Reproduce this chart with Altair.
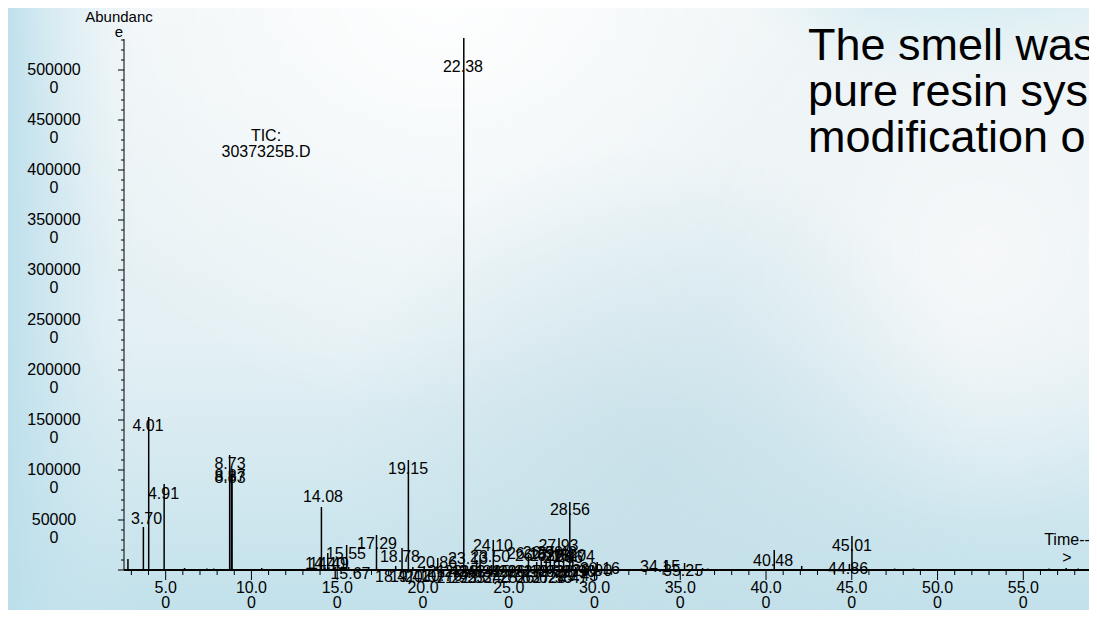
import altair as alt
import pandas as pd

# ---------------- data ----------------
# peak retention times (min) and apex abundance
peak_time = [2.80, 3.70, 4.01, 4.91, 6.10, 7.40, 7.80, 8.73, 8.83, 8.87, 10.60, 12.20,
             14.08, 14.45, 15.55, 15.67, 17.29, 18.41, 18.78, 19.15, 19.41, 20.07,
             20.76, 20.86, 22.38, 23.13, 23.33, 24.10, 26.15, 26.63, 26.90, 27.18,
             27.42, 27.66, 27.93, 28.20, 28.56, 28.74, 29.43, 29.90, 30.16, 33.50,
             34.15, 35.25, 36.30, 36.60, 40.48, 42.08, 44.86, 45.01, 47.50, 48.60,
             56.50, 57.50, 58.20,
             21.43, 21.95, 22.83, 23.77, 24.29, 24.70, 25.21, 25.63, 26.10, 26.62,
             27.03, 27.55, 28.47, 28.90]
peak_height = [110000, 430000, 1530000, 860000, 20000, 15000, 15000, 1150000, 950000,
               1000000, 20000, 10000, 630000, 170000, 250000, 30000, 350000, 40000,
               220000, 1100000, 30000, 40000, 30000, 120000, 5320000, 100000, 150000,
               300000, 150000, 80000, 120000, 100000, 150000, 100000, 320000, 120000,
               680000, 200000, 40000, 50000, 80000, 20000, 100000, 70000, 20000, 15000,
               200000, 40000, 60000, 340000, 15000, 15000, 15000, 20000, 15000,
               30000, 30000, 40000, 30000, 30000, 40000, 30000, 30000, 40000, 30000,
               30000, 40000, 30000, 30000]

# peak labels: text, centre position (min) and vertical centre (abundance units)
label_text = ["3.70", "4.01", "4.91", "8.73", "8.87", "8.83", "14.08", "14.40", "14.49",
              "15.55", "15.67", "17.29", "18.78", "18.41", "19.15", "19.41", "20.07",
              "20.76", "20.86", "22.38", "23.13", "23.50", "24.10", "26.15", "26.63",
              "26.90", "27.18", "27.42", "27.66", "28.20", "27.93", "28.56", "28.74",
              "29.43", "29.90", "30.16", "34.15", "35.25", "40.48", "44.86", "45.01",
              "21.43", "21.95", "22.41", "22.83", "23.34", "23.77", "24.29", "24.70",
              "25.21", "25.63", "26.10", "26.62", "27.03", "27.55", "27.97", "28.47",
              "28.90"]
label_time = [3.88, 3.97, 4.87, 8.75, 8.75, 8.75, 14.17, 14.29, 14.52, 15.51, 15.77,
              17.32, 18.66, 18.37, 19.13, 19.24, 20.12, 21.11, 20.82, 22.33, 22.62,
              23.91, 24.08, 26.06, 26.53, 26.99, 27.41, 27.81, 28.16, 28.34, 27.90,
              28.57, 28.86, 29.04, 29.86, 30.32, 33.82, 35.16, 40.41, 44.78, 45.01,
              21.43, 21.95, 22.41, 22.83, 23.34, 23.77, 24.29, 24.70, 25.21, 25.63,
              26.10, 26.62, 27.03, 27.55, 27.97, 28.47, 28.90]
label_level = [510000, 1440000, 760000, 1060000, 940000, 920000, 730000, 60000, 60000,
               160000, -40000, 260000, 130000, -70000, 1010000, -70000, -70000, -60000,
               70000, 5030000, 110000, 130000, 240000, 160000, 140000, 170000, 140000,
               170000, 120000, 140000, 240000, 600000, 130000, -60000, -10000, 10000,
               30000, -10000, 90000, 10000, 240000,
               -20000, -80000, -20000, -80000, -20000, -80000, -20000, -80000, -20000,
               -80000, -20000, -80000, -20000, -80000, -20000, -80000, -20000]

# axis ticks and tick labels
x_tick_values = list(range(3, 59))
x_label_values = [5, 10, 15, 20, 25, 30, 35, 40, 45, 50, 55]
x_label_text = ["5.0\n0", "10.0\n0", "15.0\n0", "20.0\n0", "25.0\n0", "30.0\n0",
                "35.0\n0", "40.0\n0", "45.0\n0", "50.0\n0", "55.0\n0"]
y_tick_values = list(range(0, 5300001, 100000))
y_label_values = [500000, 1000000, 1500000, 2000000, 2500000, 3000000, 3500000,
                  4000000, 4500000, 5000000]
y_label_text = ["50000\n0", "100000\n0", "150000\n0", "200000\n0", "250000\n0",
                "300000\n0", "350000\n0", "400000\n0", "450000\n0", "500000\n0"]

# ---------------- layout ----------------
W, H = 965, 531
PAD = {"left": 116, "top": 31, "right": 0, "bottom": 40}
FONT = "Liberation Sans"
FS = 16

peaks = pd.DataFrame({"t": peak_time, "h": peak_height})
labels = pd.DataFrame({"txt": label_text, "lt": label_time, "ly": label_level})
xt = pd.DataFrame({"v": x_tick_values, "major": [v % 5 == 0 for v in x_tick_values]})
yt = pd.DataFrame({"v": y_tick_values, "major": [v % 500000 == 0 for v in y_tick_values]})
xl = pd.DataFrame({"v": x_label_values, "s": x_label_text})
yl = pd.DataFrame({"v": y_label_values, "s": y_label_text})
one = pd.DataFrame({"a": [0]})

xscale = alt.Scale(domain=[2.57, 58.83], nice=False, zero=False)
yscale = alt.Scale(domain=[0, 5310000], nice=False, zero=False)
X = lambda f: alt.X(f, scale=xscale, axis=None)
Y = lambda f: alt.Y(f, scale=yscale, axis=None)


def bg(fill):
    return alt.Chart(one).mark_rect(fill=fill, strokeWidth=0).encode(
        x=alt.value(-PAD["left"]), x2=alt.value(W + PAD["right"]),
        y=alt.value(-PAD["top"]), y2=alt.value(H + PAD["bottom"]))


bg_layers = [
    bg({"gradient": "linear", "x1": 0, "y1": 0, "x2": 0, "y2": 1,
        "stops": [{"offset": 0, "color": "#eef4f6"},
                  {"offset": 0.55, "color": "#e4f0f4"},
                  {"offset": 1, "color": "#c2e1eb"}]}),
    bg({"gradient": "linear", "x1": 0, "y1": 0, "x2": 1, "y2": 0,
        "stops": [{"offset": 0, "color": "rgba(186,222,235,0.9)"},
                  {"offset": 0.12, "color": "rgba(210,233,241,0.0)"},
                  {"offset": 1, "color": "rgba(210,233,241,0.0)"}]}),
    bg({"gradient": "radial", "x1": 0.88, "y1": 0.0, "r1": 0, "x2": 0.88, "y2": 0.0,
        "r2": 0.3,
        "stops": [{"offset": 0, "color": "rgba(120,205,222,0.95)"},
                  {"offset": 1, "color": "rgba(160,220,232,0.0)"}]}),
    bg({"gradient": "radial", "x1": 0.4, "y1": 0.2, "r1": 0, "x2": 0.4, "y2": 0.2,
        "r2": 0.4,
        "stops": [{"offset": 0, "color": "rgba(255,255,255,0.95)"},
                  {"offset": 1, "color": "rgba(255,255,255,0.0)"}]}),
    bg({"gradient": "radial", "x1": 0.9, "y1": 0.45, "r1": 0, "x2": 0.9, "y2": 0.45,
        "r2": 0.25,
        "stops": [{"offset": 0, "color": "rgba(248,249,250,0.9)"},
                  {"offset": 1, "color": "rgba(248,249,250,0.0)"}]}),
    bg({"gradient": "radial", "x1": 0.6, "y1": 0.65, "r1": 0, "x2": 0.6, "y2": 0.65,
        "r2": 0.3,
        "stops": [{"offset": 0, "color": "rgba(196,222,231,0.75)"},
                  {"offset": 1, "color": "rgba(196,222,231,0.0)"}]}),
]

# ---------------- axes (drawn through the scales) ----------------
y_domain = alt.Chart(one).mark_rule(color="black", strokeWidth=1).encode(
    x=alt.value(0), y=alt.value(0), y2=alt.value(H))
x_base = alt.Chart(one).mark_rule(color="black", strokeWidth=2).encode(
    x=alt.value(0), x2=alt.value(W), y=alt.value(H))

x_minor = alt.Chart(xt).transform_filter("!datum.major").mark_rule(
    color="black", strokeWidth=1).encode(x=X("v:Q"), y=alt.value(H), y2=alt.value(H + 5))
x_major = alt.Chart(xt).transform_filter("datum.major").mark_rule(
    color="black", strokeWidth=1).encode(x=X("v:Q"), y=alt.value(H), y2=alt.value(H + 10))
y_minor = alt.Chart(yt).transform_filter("!datum.major").mark_rule(
    color="black", strokeWidth=1).encode(y=Y("v:Q"), x=alt.value(-3), x2=alt.value(0))
y_major = alt.Chart(yt).transform_filter("datum.major").mark_rule(
    color="black", strokeWidth=1).encode(y=Y("v:Q"), x=alt.value(-6), x2=alt.value(0))

x_labels = alt.Chart(xl).mark_text(font=FONT, fontSize=FS, color="black", align="center",
                                   baseline="middle", lineBreak="\n", lineHeight=15).encode(
    x=X("v:Q"), y=alt.value(H + 18), text="s:N")
y_labels = alt.Chart(yl).mark_text(font=FONT, fontSize=FS, color="black", align="center",
                                   baseline="middle", lineBreak="\n", lineHeight=18,
                                   dy=0).encode(
    y=Y("v:Q"), x=alt.value(-70), text="s:N")

y_title = alt.Chart(one).mark_text(text=["Abundanc", "e"], font=FONT, fontSize=FS - 1,
                                   lineHeight=15, align="center", baseline="middle",
                                   color="black").encode(x=alt.value(-5), y=alt.value(-22))
x_title = alt.Chart(one).mark_text(text=["Time--", ">"], font=FONT, fontSize=FS,
                                   lineHeight=18, align="center", baseline="middle",
                                   color="black").encode(x=alt.value(943), y=alt.value(H - 30))

# ---------------- chromatogram ----------------
rules = alt.Chart(peaks).mark_rule(color="black", strokeWidth=1.5).encode(
    x=X("t:Q"), y=Y("h:Q"), y2=alt.datum(0))

texts = alt.Chart(labels).mark_text(font=FONT, fontSize=FS, color="black",
                                    align="center", baseline="middle").encode(
    x=X("lt:Q"), y=Y("ly:Q"), text="txt:N")

tic = alt.Chart(one).mark_text(text=["TIC:", "3037325B.D"], font=FONT, fontSize=FS,
                               lineHeight=16, align="center", baseline="middle",
                               color="black").encode(x=alt.value(142), y=alt.value(97))

big = alt.Chart(one).mark_text(text=["The smell was", "pure resin sys", "modification o"],
                               font=FONT, fontSize=45, lineHeight=46, align="left",
                               baseline="alphabetic", color="black").encode(
    x=alt.value(684), y=alt.value(21))

chart = alt.layer(*bg_layers, y_domain, x_minor, x_major, y_minor, y_major, x_labels,
                  y_labels, y_title, x_title, rules, x_base, texts, tic, big).properties(
    width=W, height=H, padding=PAD, autosize="none", background="#eef4f6"
).configure_view(stroke=None)

chart.save("out.html", embed_options={"renderer": "svg", "actions": False})
